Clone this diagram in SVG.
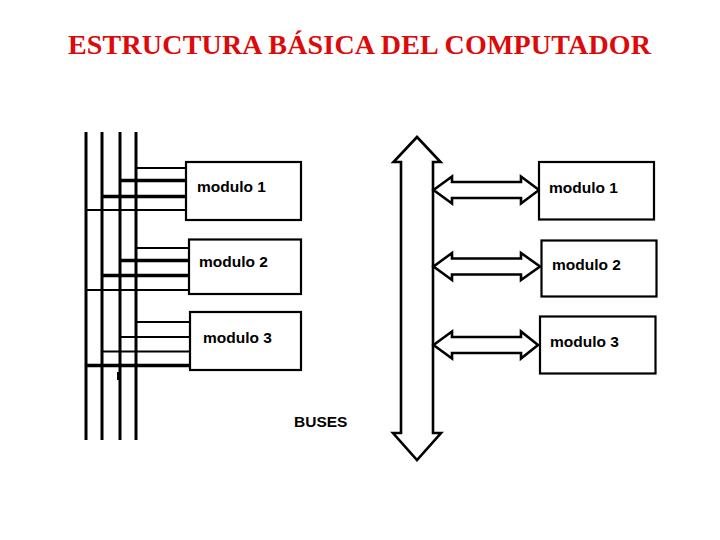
<svg xmlns="http://www.w3.org/2000/svg" width="720" height="540" viewBox="0 0 720 540">
<style>
.title{font-family:"Liberation Serif","Times New Roman",serif;font-size:28px;font-weight:bold;fill:#dc0a0a}
.lbl{font-family:"Liberation Sans",Arial,sans-serif;font-size:15.5px;font-weight:bold;fill:#000}
.box{fill:#fff;stroke:#000;stroke-width:2.2}
.bus{stroke:#000;stroke-width:3;fill:none}
.thin{stroke:#000;stroke-width:2;fill:none}
.thick{stroke:#000;stroke-width:3.5;fill:none}
.arr{fill:#fff;stroke:#000;stroke-width:2.6;stroke-linejoin:miter}
</style>
<rect width="720" height="540" fill="#fff"/>
<text class="title" x="68" y="54" textLength="583" lengthAdjust="spacing">ESTRUCTURA BÁSICA DEL COMPUTADOR</text>

<g id="connectors">
  <!-- left bus lines -->
  <line class="bus" x1="86" y1="132" x2="86" y2="440"/>
  <line class="bus" x1="102" y1="132" x2="102" y2="440"/>
  <line class="bus" x1="120" y1="132" x2="120" y2="440" stroke-width="2.5"/>
  <line class="bus" x1="136" y1="132" x2="136" y2="440"/>
  <rect x="117" y="372" width="2" height="8" fill="#000"/>
  <!-- module 1 taps -->
  <line class="thin" x1="136" y1="168" x2="186" y2="168"/>
  <line class="thick" x1="120" y1="180.5" x2="186" y2="180.5"/>
  <line class="thick" x1="102" y1="196.5" x2="186" y2="196.5"/>
  <line class="thin" x1="86" y1="210" x2="186" y2="210"/>
  <!-- module 2 taps -->
  <line class="thin" x1="136" y1="248" x2="189" y2="248"/>
  <line class="thick" x1="120" y1="260.5" x2="189" y2="260.5"/>
  <line class="thick" x1="102" y1="275.5" x2="189" y2="275.5"/>
  <line class="thin" x1="86" y1="290" x2="189" y2="290"/>
  <!-- module 3 taps -->
  <line class="thin" x1="136" y1="322" x2="190" y2="322"/>
  <line class="thin" x1="120" y1="337" x2="190" y2="337"/>
  <line class="thin" x1="102" y1="351.5" x2="190" y2="351.5"/>
  <line class="thick" x1="86" y1="365.5" x2="190" y2="365.5"/>
  <!-- right: main bus arrow -->
  <polygon class="arr" points="417,137 440.5,162 433,162 433,433 441,433 417,460 393,433 401,433 401,162 393.5,162"/>
  <!-- right: module arrows -->
  <polygon class="arr" points="433.5,190 452,176.5 452,182 521,182 521,176.5 539,190 521,203.5 521,198 452,198 452,203.5"/>
  <polygon class="arr" points="433.5,266.5 452,253 452,258.5 521,258.5 521,253 540,266.5 521,280 521,274.5 452,274.5 452,280"/>
  <polygon class="arr" points="433.5,345 452,331.5 452,337 521,337 521,331.5 538,345 521,358.5 521,353 452,353 452,358.5"/>
</g>

<g id="left-modulo1">
  <rect class="box" x="186" y="162" width="115" height="58"/>
  <text class="lbl" x="197" y="192">modulo 1</text>
</g>
<g id="left-modulo2">
  <rect class="box" x="189" y="239.5" width="112" height="54.5"/>
  <text class="lbl" x="199" y="267">modulo 2</text>
</g>
<g id="left-modulo3">
  <rect class="box" x="190" y="312" width="111" height="58"/>
  <text class="lbl" x="203" y="343">modulo 3</text>
</g>

<g id="buses-label">
  <text class="lbl" x="294" y="427" font-size="15px">BUSES</text>
</g>

<g id="right-modulo1">
  <rect class="box" x="539" y="162" width="115" height="57.5"/>
  <text class="lbl" x="549" y="193">modulo 1</text>
</g>
<g id="right-modulo2">
  <rect class="box" x="541.5" y="240.5" width="115" height="56" stroke-width="3"/>
  <text class="lbl" x="552" y="270">modulo 2</text>
</g>
<g id="right-modulo3">
  <rect class="box" x="540" y="316.5" width="115.5" height="57" stroke-width="2.5"/>
  <text class="lbl" x="550" y="347">modulo 3</text>
</g>
</svg>
